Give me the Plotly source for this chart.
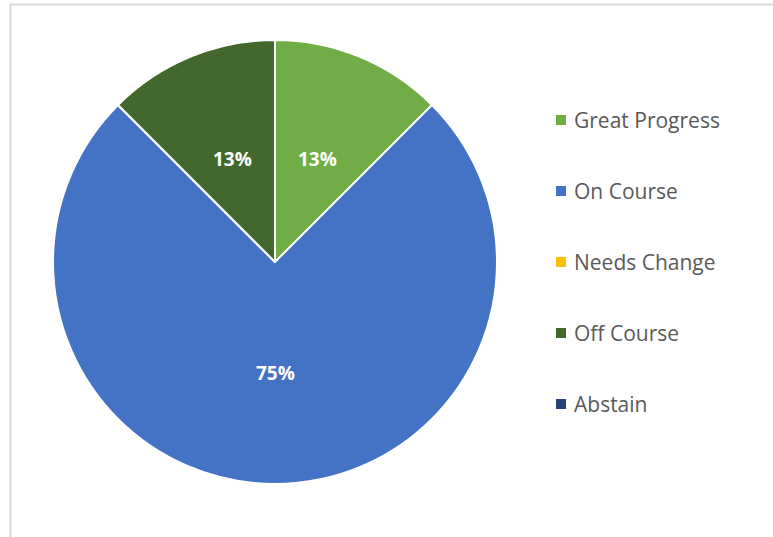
import math
import plotly.graph_objects as go

labels = ["Great Progress", "On Course", "Needs Change", "Off Course", "Abstain"]
values = [1, 6, 0, 1, 0]
colors = ["#70AD47", "#4472C4", "#FFC000", "#43682B", "#264478"]

W, H = 773, 537
cx, cy, r = 275, 262, 222

fig = go.Figure()
fig.add_trace(go.Pie(
    labels=labels,
    values=values,
    sort=False,
    direction="clockwise",
    rotation=0,
    marker=dict(colors=colors, line=dict(color="white", width=2)),
    textinfo="none",
    domain=dict(x=[(cx - r) / W, (cx + r) / W], y=[1 - (cy + r) / H, 1 - (cy - r) / H]),
    showlegend=False,
    hoverinfo="label+percent",
))

shapes = [dict(type="rect", xref="paper", yref="paper",
               x0=10.5 / W, x1=1.02, y0=-0.02, y1=1 - 4.5 / H,
               line=dict(color="#D9D9D9", width=2), fillcolor="rgba(0,0,0,0)", layer="below")]
annotations = []

# data labels at half radius on each slice's bisector (Excel style)
total = sum(values)
cum = 0
for v in values:
    if v > 0:
        mid = (cum + v / 2) / total * 2 * math.pi
        lx = cx + 0.5 * r * math.sin(mid)
        ly = cy - 0.5 * r * math.cos(mid)
        annotations.append(dict(text=f"{round(v / total * 100)}%" if (v / total * 100) % 1 != 0.5 else f"{math.floor(v / total * 100 + 0.5)}%",
                                xref="paper", yref="paper", x=lx / W, y=1 - ly / H,
                                xanchor="center", yanchor="middle", showarrow=False,
                                font=dict(family="Open Sans", size=19, color="white", weight="bold")))
    cum += v

leg_y0, leg_dy = 120, 71
for i, (lab, col) in enumerate(zip(labels, colors)):
    yy = leg_y0 + i * leg_dy
    shapes.append(dict(type="rect", xref="paper", yref="paper",
                       x0=556 / W, x1=566 / W, y0=1 - (yy + 5) / H, y1=1 - (yy - 5) / H,
                       fillcolor=col, line=dict(width=0)))
    annotations.append(dict(text=lab, xref="paper", yref="paper", x=572 / W, y=1 - yy / H,
                            xanchor="left", yanchor="middle", showarrow=False,
                            font=dict(family="Open Sans", size=21, color="#595959")))

fig.update_layout(
    width=W, height=H,
    margin=dict(l=0, r=0, t=0, b=0),
    paper_bgcolor="white",
    plot_bgcolor="white",
    shapes=shapes,
    annotations=annotations,
)

fig.write_html("out.html")
